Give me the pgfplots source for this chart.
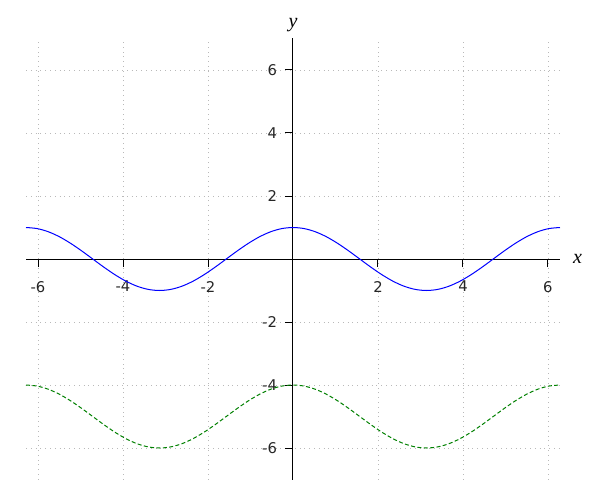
\documentclass[border=0pt]{standalone}
\usepackage{pgfplots}
\pgfplotsset{compat=1.18}
\usepackage{fontspec}
\setmainfont{DejaVu Sans}
\newfontfamily\labfont{Liberation Serif}
\begin{document}
\begin{tikzpicture}
\useasboundingbox (-13pt,-10.25pt) rectangle (287pt,239.75pt);
\begin{axis}[
  at={(0,0)}, anchor=south west,
  scale only axis, width=267pt, height=220.5pt,
  xmin=-6.2832, xmax=6.2832, ymin=-7, ymax=7,
  axis lines=middle,
  axis line style={black, line width=0.5pt, -},
  xtick={-6,-4,-2,2,4,6}, ytick={-6,-4,-2,2,4,6},
  grid=major, grid style={gray!55, dotted, line width=0.4pt},
  tick style={black, line width=0.5pt}, major tick length=4pt, tick align=outside,
  ticklabel style={font=\fontsize{7.4}{9}\selectfont, text=black!85},
  xticklabel style={yshift=-3.5pt},
  yticklabel style={xshift=-0.5pt},
  /pgf/number format/assume math mode=true,
  xlabel={\labfont\itshape x}, ylabel={\labfont\itshape y},
  every axis x label/.style={at={(axis description cs:1,0.5)}, anchor=west, xshift=3pt, font=\fontsize{10}{12}\selectfont},
  every axis y label/.style={at={(axis description cs:0.5,1)}, anchor=south, yshift=0pt, font=\fontsize{10}{12}\selectfont},
  clip=false,
]
\addplot[blue, line width=0.5pt, smooth] coordinates {
(-6.2832,1) (-6.0214,0.9659) (-5.7596,0.8660) (-5.4978,0.7071) (-5.2360,0.5) (-4.9742,0.2588)
(-4.7124,0) (-4.4506,-0.2588) (-4.1888,-0.5) (-3.9270,-0.7071) (-3.6652,-0.8660) (-3.4034,-0.9659)
(-3.1416,-1) (-2.8798,-0.9659) (-2.6180,-0.8660) (-2.3562,-0.7071) (-2.0944,-0.5) (-1.8326,-0.2588)
(-1.5708,0) (-1.3090,0.2588) (-1.0472,0.5) (-0.7854,0.7071) (-0.5236,0.8660) (-0.2618,0.9659)
(0,1) (0.2618,0.9659) (0.5236,0.8660) (0.7854,0.7071) (1.0472,0.5) (1.3090,0.2588)
(1.5708,0) (1.8326,-0.2588) (2.0944,-0.5) (2.3562,-0.7071) (2.6180,-0.8660) (2.8798,-0.9659)
(3.1416,-1) (3.4034,-0.9659) (3.6652,-0.8660) (3.9270,-0.7071) (4.1888,-0.5) (4.4506,-0.2588)
(4.7124,0) (4.9742,0.2588) (5.2360,0.5) (5.4978,0.7071) (5.7596,0.8660) (6.0214,0.9659) (6.2832,1)
};
\addplot[color={rgb,255:red,0;green,128;blue,0}, line width=0.5pt, smooth, dash pattern=on 2pt off 1.2pt] coordinates {
(-6.2832,-4) (-6.0214,-4.0341) (-5.7596,-4.1340) (-5.4978,-4.2929) (-5.2360,-4.5) (-4.9742,-4.7412)
(-4.7124,-5) (-4.4506,-5.2588) (-4.1888,-5.5) (-3.9270,-5.7071) (-3.6652,-5.8660) (-3.4034,-5.9659)
(-3.1416,-6) (-2.8798,-5.9659) (-2.6180,-5.8660) (-2.3562,-5.7071) (-2.0944,-5.5) (-1.8326,-5.2588)
(-1.5708,-5) (-1.3090,-4.7412) (-1.0472,-4.5) (-0.7854,-4.2929) (-0.5236,-4.1340) (-0.2618,-4.0341)
(0,-4) (0.2618,-4.0341) (0.5236,-4.1340) (0.7854,-4.2929) (1.0472,-4.5) (1.3090,-4.7412)
(1.5708,-5) (1.8326,-5.2588) (2.0944,-5.5) (2.3562,-5.7071) (2.6180,-5.8660) (2.8798,-5.9659)
(3.1416,-6) (3.4034,-5.9659) (3.6652,-5.8660) (3.9270,-5.7071) (4.1888,-5.5) (4.4506,-5.2588)
(4.7124,-5) (4.9742,-4.7412) (5.2360,-4.5) (5.4978,-4.2929) (5.7596,-4.1340) (6.0214,-4.0341) (6.2832,-4)
};
\end{axis}
\end{tikzpicture}
\end{document}
